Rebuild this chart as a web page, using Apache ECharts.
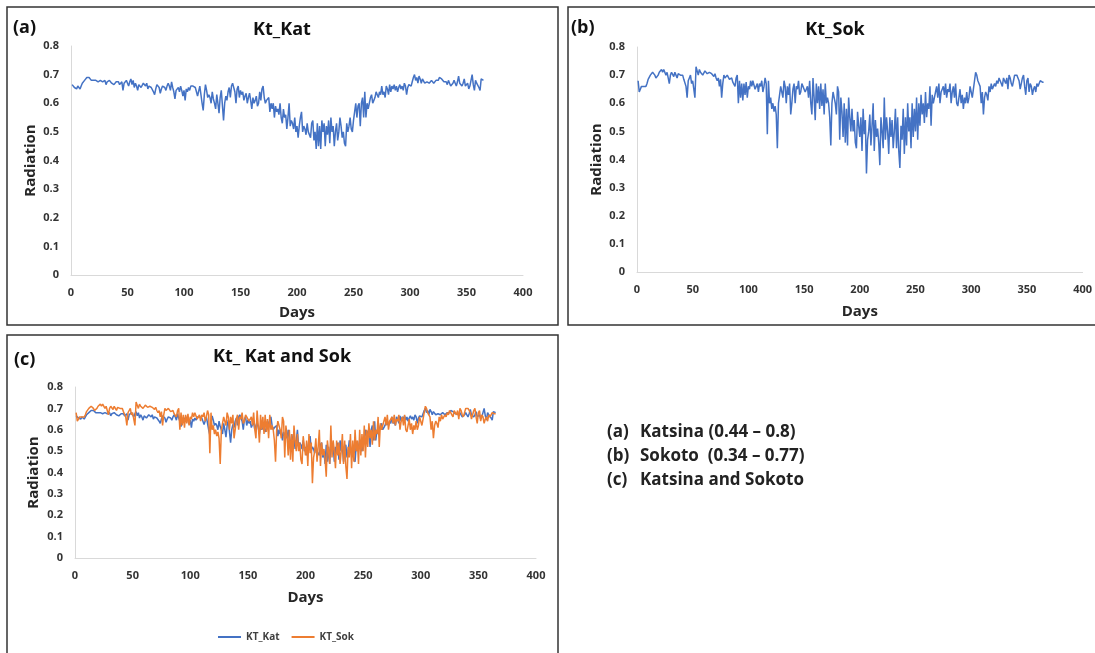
<!DOCTYPE html>
<html>
<head>
<meta charset="utf-8">
<script src="https://cdn.jsdelivr.net/npm/echarts@6/dist/echarts.min.js"></script>
<style>
html,body{margin:0;padding:0;background:#fff;}
#chart{width:1095px;height:653px;}
</style>
</head>
<body>
<div id="chart"></div>
<script>
// Daily clearness index Kt (days 1..365)
var ktKat = [
0.665,0.66,0.655,0.66,0.65,0.66,0.655,0.65,0.66,0.67,
0.675,0.68,0.685,0.69,0.695,0.69,0.685,0.68,0.685,0.68,
0.675,0.68,0.685,0.675,0.67,0.68,0.685,0.675,0.67,0.68,
0.665,0.675,0.67,0.68,0.675,0.67,0.675,0.665,0.67,0.675,
0.67,0.675,0.665,0.67,0.675,0.645,0.67,0.675,0.68,0.67,
0.66,0.675,0.685,0.665,0.68,0.655,0.67,0.66,0.645,0.665,
0.67,0.655,0.66,0.67,0.665,0.66,0.67,0.65,0.66,0.665,
0.655,0.66,0.64,0.63,0.65,0.665,0.66,0.655,0.635,0.65,
0.66,0.665,0.655,0.645,0.66,0.67,0.66,0.645,0.675,0.655,
0.64,0.615,0.645,0.65,0.655,0.64,0.66,0.645,0.625,0.645,
0.61,0.65,0.64,0.655,0.645,0.66,0.655,0.66,0.665,0.655,
0.64,0.625,0.63,0.66,0.665,0.6,0.575,0.63,0.665,0.645,
0.62,0.63,0.62,0.6,0.64,0.615,0.6,0.58,0.63,0.6,
0.565,0.62,0.645,0.64,0.54,0.6,0.625,0.61,0.64,0.655,
0.62,0.66,0.67,0.655,0.64,0.6,0.65,0.66,0.62,0.645,
0.63,0.64,0.61,0.625,0.635,0.6,0.62,0.635,0.61,0.58,
0.62,0.6,0.61,0.625,0.59,0.6,0.64,0.61,0.65,0.66,
0.62,0.6,0.61,0.615,0.62,0.57,0.6,0.58,0.6,0.55,
0.59,0.57,0.58,0.56,0.6,0.55,0.53,0.58,0.55,0.56,
0.51,0.55,0.6,0.52,0.54,0.53,0.51,0.55,0.5,0.52,
0.48,0.52,0.55,0.57,0.5,0.52,0.51,0.49,0.53,0.5,
0.5,0.48,0.53,0.54,0.47,0.5,0.44,0.53,0.45,0.52,
0.44,0.54,0.5,0.53,0.45,0.52,0.49,0.54,0.46,0.55,
0.5,0.52,0.45,0.5,0.53,0.47,0.5,0.55,0.52,0.48,
0.5,0.46,0.45,0.53,0.5,0.52,0.55,0.51,0.5,0.54,
0.57,0.6,0.55,0.59,0.6,0.52,0.6,0.62,0.55,0.64,
0.55,0.6,0.58,0.6,0.62,0.63,0.6,0.61,0.62,0.64,
0.63,0.62,0.64,0.63,0.66,0.63,0.64,0.62,0.66,0.65,
0.63,0.665,0.64,0.66,0.65,0.665,0.645,0.66,0.64,0.655,
0.665,0.65,0.66,0.645,0.67,0.66,0.63,0.655,0.665,0.67,
0.66,0.675,0.69,0.7,0.68,0.69,0.67,0.695,0.685,0.67,
0.685,0.69,0.67,0.665,0.675,0.68,0.67,0.665,0.68,0.675,
0.67,0.675,0.68,0.685,0.68,0.69,0.695,0.685,0.68,0.675,
0.67,0.675,0.665,0.68,0.67,0.66,0.665,0.67,0.68,0.67,
0.66,0.675,0.695,0.67,0.665,0.66,0.67,0.685,0.66,0.655,
0.67,0.65,0.66,0.68,0.7,0.665,0.645,0.68,0.67,0.665,
0.655,0.645,0.685,0.68,0.68
];
var ktSok = [
0.68,0.64,0.65,0.66,0.655,0.66,0.665,0.66,0.67,0.685,
0.69,0.7,0.695,0.71,0.705,0.7,0.69,0.695,0.7,0.71,
0.715,0.72,0.71,0.72,0.715,0.7,0.71,0.69,0.67,0.7,
0.71,0.705,0.695,0.71,0.7,0.69,0.705,0.71,0.7,0.695,
0.7,0.685,0.69,0.66,0.62,0.68,0.69,0.7,0.67,0.68,
0.65,0.62,0.73,0.715,0.7,0.72,0.71,0.715,0.7,0.705,
0.715,0.71,0.705,0.7,0.71,0.715,0.705,0.7,0.695,0.705,
0.69,0.68,0.69,0.66,0.685,0.62,0.67,0.7,0.69,0.695,
0.7,0.695,0.685,0.68,0.69,0.675,0.68,0.66,0.69,0.7,
0.6,0.68,0.62,0.67,0.61,0.67,0.63,0.675,0.62,0.66,
0.65,0.68,0.66,0.68,0.675,0.65,0.66,0.67,0.64,0.67,
0.66,0.68,0.64,0.66,0.69,0.67,0.49,0.68,0.6,0.62,
0.58,0.6,0.57,0.59,0.56,0.44,0.6,0.63,0.66,0.64,
0.62,0.68,0.66,0.6,0.66,0.63,0.67,0.56,0.6,0.65,
0.67,0.6,0.66,0.65,0.68,0.63,0.64,0.67,0.66,0.65,
0.64,0.65,0.66,0.62,0.68,0.6,0.56,0.69,0.62,0.54,
0.67,0.6,0.66,0.58,0.67,0.59,0.65,0.56,0.67,0.6,
0.62,0.6,0.55,0.45,0.6,0.64,0.62,0.6,0.56,0.66,
0.64,0.47,0.62,0.57,0.48,0.6,0.46,0.58,0.45,0.62,
0.55,0.5,0.58,0.5,0.54,0.46,0.44,0.57,0.52,0.48,
0.55,0.43,0.58,0.49,0.54,0.35,0.47,0.5,0.56,0.45,
0.52,0.6,0.43,0.54,0.48,0.51,0.46,0.38,0.55,0.5,
0.44,0.62,0.47,0.55,0.5,0.42,0.55,0.48,0.54,0.44,
0.5,0.58,0.44,0.55,0.43,0.37,0.52,0.47,0.58,0.42,
0.55,0.45,0.6,0.5,0.55,0.44,0.6,0.48,0.58,0.5,
0.62,0.47,0.6,0.52,0.63,0.56,0.6,0.53,0.64,0.55,
0.6,0.58,0.66,0.52,0.63,0.6,0.62,0.64,0.66,0.62,
0.67,0.6,0.64,0.65,0.66,0.63,0.67,0.62,0.65,0.64,
0.67,0.6,0.64,0.66,0.62,0.67,0.6,0.59,0.62,0.65,
0.6,0.63,0.58,0.62,0.6,0.64,0.6,0.62,0.66,0.64,
0.62,0.65,0.68,0.71,0.7,0.68,0.67,0.66,0.6,0.64,
0.56,0.62,0.64,0.63,0.61,0.66,0.64,0.67,0.65,0.66,
0.67,0.66,0.68,0.67,0.69,0.68,0.67,0.66,0.69,0.68,
0.67,0.69,0.65,0.7,0.69,0.67,0.66,0.68,0.7,0.705,
0.7,0.69,0.68,0.65,0.67,0.69,0.7,0.66,0.63,0.68,
0.69,0.64,0.67,0.66,0.63,0.65,0.66,0.64,0.67,0.66,
0.67,0.68,0.685,0.675,0.675
];
var panelTitles = ['Kt_Kat', 'Kt_Sok', 'Kt_ Kat and Sok'];
var panelTags = ['(a)', '(b)', '(c)'];
var seriesNames = ['KT_Kat', 'KT_Sok'];
var notes = [
  ['(a)', 'Katsina (0.44 \u2013 0.8)'],
  ['(b)', 'Sokoto  (0.34 \u2013 0.77)'],
  ['(c)', 'Katsina and Sokoto']
];

function pairs(arr) { return arr.map(function (v, i) { return [i + 1, v]; }); }

var FONT = '"Open Sans", Lato, sans-serif';
var BLUE = '#4472C4', ORANGE = '#ED7D31';

var grids = [
  {left: 71, top: 46, width: 452, height: 229},
  {left: 637, top: 47, width: 450, height: 225},
  {left: 75, top: 387, width: 461, height: 171}
];
var xNameGap = [30, 32, 32];
var yNameGap = [33, 33, 34];

function xAx(i) {
  return {
    type: 'value', gridIndex: i, min: 0, max: 400, interval: 50,
    name: 'Days', nameLocation: 'middle', nameGap: xNameGap[i],
    nameTextStyle: {fontFamily: FONT, fontWeight: 'bold', fontSize: 15, color: '#262626'},
    axisLine: {show: true, lineStyle: {color: '#d9d9d9', width: 1}},
    axisTick: {show: false}, splitLine: {show: false},
    axisLabel: {fontFamily: FONT, fontWeight: 'bold', fontSize: 11, color: '#333', margin: 12}
  };
}
function yAx(i) {
  return {
    type: 'value', gridIndex: i, min: 0, max: 0.8, interval: 0.1,
    name: 'Radiation', nameLocation: 'middle', nameGap: yNameGap[i],
    nameTextStyle: {fontFamily: FONT, fontWeight: 'bold', fontSize: 15, color: '#262626'},
    axisLine: {show: true, lineStyle: {color: '#d9d9d9', width: 1}},
    axisTick: {show: false}, splitLine: {show: false},
    axisLabel: {fontFamily: FONT, fontWeight: 'bold', fontSize: 11, color: '#333', margin: 12,
      formatter: function (v) { return String(Math.round(v * 10) / 10); }}
  };
}

var graphics = [
  {type: 'rect', shape: {x: 7, y: 7, width: 551, height: 318}, style: {fill: 'none', stroke: '#333', lineWidth: 1.5}, silent: true},
  {type: 'rect', shape: {x: 568, y: 7, width: 540, height: 318}, style: {fill: 'none', stroke: '#333', lineWidth: 1.5}, silent: true},
  {type: 'rect', shape: {x: 7, y: 335, width: 551, height: 330}, style: {fill: 'none', stroke: '#333', lineWidth: 1.5}, silent: true}
];
var titlePos = [[282, 30], [835, 30], [282, 357]];
var tagPos = [[13, 28], [571, 28], [14, 360]];
for (var k = 0; k < 3; k++) {
  graphics.push({type: 'text', x: titlePos[k][0], y: titlePos[k][1], silent: true,
    style: {text: panelTitles[k], fontFamily: FONT, fontWeight: 'bold', fontSize: 18, fill: '#111', textAlign: 'center', textVerticalAlign: 'middle'}});
  graphics.push({type: 'text', x: tagPos[k][0], y: tagPos[k][1], silent: true,
    style: {text: panelTags[k], fontFamily: FONT, fontWeight: 'bold', fontSize: 18, fill: '#111', textAlign: 'left', textVerticalAlign: 'middle'}});
}
var noteY = [432, 456, 480];
for (var n = 0; n < notes.length; n++) {
  graphics.push({type: 'text', x: 607, y: noteY[n], silent: true,
    style: {text: notes[n][0], fontFamily: FONT, fontWeight: 'bold', fontSize: 17, fill: '#222', textAlign: 'left', textVerticalAlign: 'middle'}});
  graphics.push({type: 'text', x: 640, y: noteY[n], silent: true,
    style: {text: notes[n][1], fontFamily: FONT, fontWeight: 'bold', fontSize: 17, fill: '#222', textAlign: 'left', textVerticalAlign: 'middle'}});
}

function line(name, data, xi, color) {
  return {type: 'line', name: name, xAxisIndex: xi, yAxisIndex: xi, data: pairs(data),
    showSymbol: false, symbol: 'none', lineStyle: {color: color, width: 1.5}, itemStyle: {color: color}};
}

var chart = echarts.init(document.getElementById('chart'));
chart.setOption({
  backgroundColor: '#fff',
  animation: false,
  grid: grids,
  xAxis: [xAx(0), xAx(1), xAx(2)],
  yAxis: [yAx(0), yAx(1), yAx(2)],
  legend: {
    data: seriesNames, left: 213, top: 627, icon: 'rect', itemWidth: 23, itemHeight: 2, itemGap: 12,
    textStyle: {fontFamily: FONT, fontWeight: 'bold', fontSize: 10, color: '#404040'}
  },
  graphic: graphics,
  series: [
    line(seriesNames[0], ktKat, 0, BLUE),
    line(seriesNames[0], ktSok, 1, BLUE),
    line(seriesNames[0], ktKat, 2, BLUE),
    line(seriesNames[1], ktSok, 2, ORANGE)
  ]
});
</script>
</body>
</html>
